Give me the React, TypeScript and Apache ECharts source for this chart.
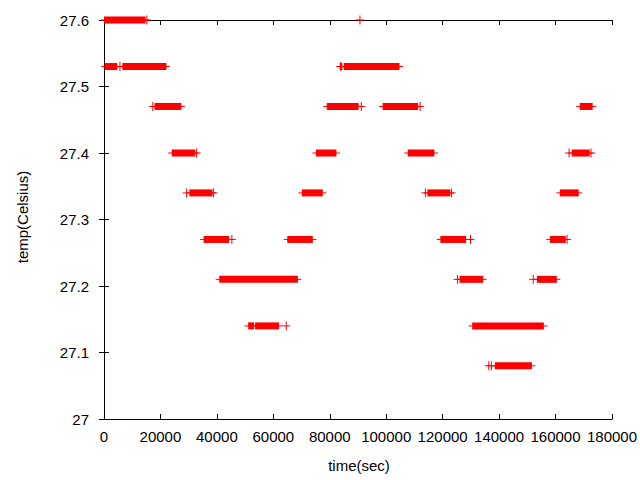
import React, { useEffect, useRef } from "react";
import * as echarts from "echarts";

// Dense runs of readings: [startTime, endTime, temperature]
const segments: [number, number, number][] = [
  [0, 14716, 27.6],
  [247, 4729, 27.53],
  [6493, 22127, 27.53],
  [83531, 84484, 27.53],
  [84943, 104706, 27.53],
  [17892, 27420, 27.47],
  [78944, 90237, 27.47],
  [98723, 111306, 27.47],
  [168580, 173168, 27.47],
  [23997, 32361, 27.4],
  [75063, 82367, 27.4],
  [107635, 117058, 27.4],
  [165762, 172114, 27.4],
  [30244, 38466, 27.34],
  [70121, 77532, 27.34],
  [114589, 122706, 27.34],
  [161522, 168228, 27.34],
  [35290, 44360, 27.27],
  [64934, 74003, 27.27],
  [119178, 128353, 27.27],
  [157997, 163643, 27.27],
  [40830, 68710, 27.21],
  [125985, 134353, 27.21],
  [153401, 160459, 27.21],
  [51065, 53182, 27.14],
  [53535, 62005, 27.14],
  [130459, 155868, 27.14],
  [138478, 151641, 27.08],
];

// Isolated readings: [time, temperature]
const points: [number, number][] = [
  [15175, 27.6],
  [90695, 27.6],
  [5646, 27.53],
  [83884, 27.53],
  [17292, 27.47],
  [91189, 27.47],
  [112011, 27.47],
  [32820, 27.4],
  [164806, 27.4],
  [172570, 27.4],
  [29291, 27.34],
  [38819, 27.34],
  [113880, 27.34],
  [123162, 27.34],
  [45312, 27.27],
  [129867, 27.27],
  [164097, 27.27],
  [125280, 27.21],
  [152100, 27.21],
  [64581, 27.14],
  [136359, 27.08],
  [137277, 27.08],
];

const X_MIN = 0;
const X_MAX = 180000;
const X_STEP = 20000;
const Y_MIN = 27;
const Y_MAX = 27.6;
const Y_STEP = 0.1;

const RED = "#ff0000";
const FONT = "'Liberation Sans', Arial, sans-serif";

export default function App() {
  const ref = useRef<HTMLDivElement>(null);

  useEffect(() => {
    if (!ref.current) return;
    const chart = echarts.init(ref.current, undefined, { renderer: "svg" });

    const axisLine = { show: true, lineStyle: { color: "#000", width: 1 } };
    const axisTick = { show: true, inside: true, length: 5, lineStyle: { color: "#000", width: 1 } };

    chart.setOption({
      animation: false,
      backgroundColor: "#fff",
      grid: { left: 104, right: 26, top: 20, bottom: 61, containLabel: false },
      xAxis: [
        {
          type: "value",
          min: X_MIN,
          max: X_MAX,
          interval: X_STEP,
          position: "bottom",
          axisLine,
          axisTick,
          splitLine: { show: false },
          axisLabel: {
            color: "#000",
            fontSize: 15,
            fontFamily: FONT,
            margin: 10,
            showMinLabel: true,
            showMaxLabel: true,
            formatter: (v: number) => String(Math.round(v)),
          },
        },
        {
          type: "value",
          min: X_MIN,
          max: X_MAX,
          interval: X_STEP,
          position: "top",
          axisLine,
          axisTick,
          splitLine: { show: false },
          axisLabel: { show: false },
        },
      ],
      yAxis: [
        {
          type: "value",
          min: Y_MIN,
          max: Y_MAX,
          interval: Y_STEP,
          position: "left",
          axisLine,
          axisTick,
          splitLine: { show: false },
          axisLabel: {
            color: "#000",
            fontSize: 15,
            fontFamily: FONT,
            margin: 15,
            formatter: (v: number) => String(Math.round(v * 10) / 10),
          },
        },
        {
          type: "value",
          min: Y_MIN,
          max: Y_MAX,
          interval: Y_STEP,
          position: "right",
          axisLine,
          axisTick,
          splitLine: { show: false },
          axisLabel: { show: false },
        },
      ],
      graphic: [
        {
          type: "text",
          x: 359,
          y: 465,
          style: { text: "time(sec)", fontSize: 15, fontFamily: FONT, fill: "#000", textAlign: "center", textVerticalAlign: "middle" },
        },
        {
          type: "text",
          x: 22,
          y: 217,
          rotation: Math.PI / 2,
          style: { text: "temp(Celsius)", fontSize: 15, fontFamily: FONT, fill: "#000", textAlign: "center", textVerticalAlign: "middle" },
        },
      ],
      series: [
        {
          type: "custom",
          xAxisIndex: 0,
          yAxisIndex: 0,
          clip: false,
          encode: { x: [0, 1], y: 2 },
          data: segments,
          renderItem: (_p: any, api: any) => {
            const s = api.coord([api.value(0), api.value(2)]);
            const e = api.coord([api.value(1), api.value(2)]);
            return {
              type: "group",
              children: [
                {
                  type: "line",
                  shape: { x1: s[0] - 3.5, y1: s[1], x2: e[0] + 3.5, y2: e[1] },
                  style: { stroke: RED, lineWidth: 1 },
                },
                {
                  type: "rect",
                  shape: { x: s[0], y: s[1] - 3.5, width: Math.max(e[0] - s[0], 1), height: 7 },
                  style: { fill: RED },
                },
              ],
            };
          },
        },
        {
          type: "custom",
          xAxisIndex: 0,
          yAxisIndex: 0,
          clip: false,
          encode: { x: 0, y: 1 },
          data: points,
          renderItem: (_p: any, api: any) => {
            const c = api.coord([api.value(0), api.value(1)]);
            return {
              type: "group",
              children: [
                { type: "line", shape: { x1: c[0] - 4, y1: c[1], x2: c[0] + 4, y2: c[1] }, style: { stroke: RED, lineWidth: 1 } },
                { type: "line", shape: { x1: c[0], y1: c[1] - 4.5, x2: c[0], y2: c[1] + 4.5 }, style: { stroke: RED, lineWidth: 1 } },
              ],
            };
          },
        },
      ],
    });

    return () => chart.dispose();
  }, []);

  return <div ref={ref} style={{ position: "fixed", left: 0, top: 0, width: 640, height: 480 }} />;
}
